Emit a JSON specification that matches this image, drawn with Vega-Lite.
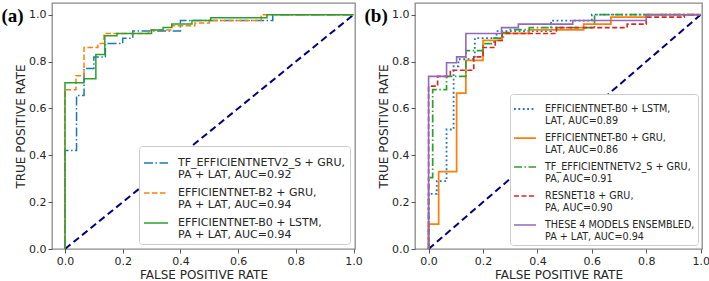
{
  "$schema": "https://vega.github.io/schema/vega-lite/v6.json",
  "padding": {"left": 0, "top": 2, "right": 4, "bottom": 0},
  "background": "white",
  "spacing": 0,
  "resolve": {"scale": {"color": "independent", "strokeDash": "independent", "strokeWidth": "independent"}, "legend": {"color": "independent", "strokeDash": "independent", "strokeWidth": "independent"}},
  "config": {
    "font": "DejaVu Sans",
    "view": {"stroke": "#8a8a8a", "strokeWidth": 1.3},
    "axis": {"grid": false, "domain": false, "tickColor": "#555555", "tickSize": 4, "labelFontSize": 11, "labelColor": "#262626", "titleFontSize": 12, "titleFontWeight": "normal", "titleColor": "#262626", "labelPadding": 2, "labelFont": "DejaVu Sans", "titleFont": "DejaVu Sans"},
    "axisX": {"titlePadding": 3},
    "axisY": {"titlePadding": 1},
    "style": {"guide-label": {"lineHeight": 11.5}}
  },
  "datasets": {
    "diag": [{"fpr": 0, "tpr": 0}, {"fpr": 1, "tpr": 1}],
    "a": [
      {"model": "TF_EFFICIENTNETV2_S + GRU, PA + LAT, AUC=0.92", "i": 0, "fpr": 0, "tpr": 0},
      {"model": "TF_EFFICIENTNETV2_S + GRU, PA + LAT, AUC=0.92", "i": 1, "fpr": 0, "tpr": 0.42},
      {"model": "TF_EFFICIENTNETV2_S + GRU, PA + LAT, AUC=0.92", "i": 2, "fpr": 0.04, "tpr": 0.655},
      {"model": "TF_EFFICIENTNETV2_S + GRU, PA + LAT, AUC=0.92", "i": 3, "fpr": 0.066, "tpr": 0.77},
      {"model": "TF_EFFICIENTNETV2_S + GRU, PA + LAT, AUC=0.92", "i": 4, "fpr": 0.1, "tpr": 0.82},
      {"model": "TF_EFFICIENTNETV2_S + GRU, PA + LAT, AUC=0.92", "i": 5, "fpr": 0.14, "tpr": 0.877},
      {"model": "TF_EFFICIENTNETV2_S + GRU, PA + LAT, AUC=0.92", "i": 6, "fpr": 0.2, "tpr": 0.9},
      {"model": "TF_EFFICIENTNETV2_S + GRU, PA + LAT, AUC=0.92", "i": 7, "fpr": 0.235, "tpr": 0.93},
      {"model": "TF_EFFICIENTNETV2_S + GRU, PA + LAT, AUC=0.92", "i": 8, "fpr": 0.4, "tpr": 0.975},
      {"model": "TF_EFFICIENTNETV2_S + GRU, PA + LAT, AUC=0.92", "i": 9, "fpr": 0.72, "tpr": 1.0},
      {"model": "TF_EFFICIENTNETV2_S + GRU, PA + LAT, AUC=0.92", "i": 10, "fpr": 1, "tpr": 1},
      {"model": "EFFICIENTNET-B2 + GRU, PA + LAT, AUC=0.94", "i": 0, "fpr": 0, "tpr": 0},
      {"model": "EFFICIENTNET-B2 + GRU, PA + LAT, AUC=0.94", "i": 1, "fpr": 0, "tpr": 0.68},
      {"model": "EFFICIENTNET-B2 + GRU, PA + LAT, AUC=0.94", "i": 2, "fpr": 0.038, "tpr": 0.74},
      {"model": "EFFICIENTNET-B2 + GRU, PA + LAT, AUC=0.94", "i": 3, "fpr": 0.066, "tpr": 0.86},
      {"model": "EFFICIENTNET-B2 + GRU, PA + LAT, AUC=0.94", "i": 4, "fpr": 0.114, "tpr": 0.877},
      {"model": "EFFICIENTNET-B2 + GRU, PA + LAT, AUC=0.94", "i": 5, "fpr": 0.135, "tpr": 0.92},
      {"model": "EFFICIENTNET-B2 + GRU, PA + LAT, AUC=0.94", "i": 6, "fpr": 0.29, "tpr": 0.935},
      {"model": "EFFICIENTNET-B2 + GRU, PA + LAT, AUC=0.94", "i": 7, "fpr": 0.37, "tpr": 0.953},
      {"model": "EFFICIENTNET-B2 + GRU, PA + LAT, AUC=0.94", "i": 8, "fpr": 0.45, "tpr": 0.965},
      {"model": "EFFICIENTNET-B2 + GRU, PA + LAT, AUC=0.94", "i": 9, "fpr": 0.5, "tpr": 0.975},
      {"model": "EFFICIENTNET-B2 + GRU, PA + LAT, AUC=0.94", "i": 10, "fpr": 0.68, "tpr": 1.0},
      {"model": "EFFICIENTNET-B2 + GRU, PA + LAT, AUC=0.94", "i": 11, "fpr": 1, "tpr": 1},
      {"model": "EFFICIENTNET-B0 + LSTM, PA + LAT, AUC=0.94", "i": 0, "fpr": 0, "tpr": 0},
      {"model": "EFFICIENTNET-B0 + LSTM, PA + LAT, AUC=0.94", "i": 1, "fpr": 0, "tpr": 0.71},
      {"model": "EFFICIENTNET-B0 + LSTM, PA + LAT, AUC=0.94", "i": 2, "fpr": 0.066, "tpr": 0.727},
      {"model": "EFFICIENTNET-B0 + LSTM, PA + LAT, AUC=0.94", "i": 3, "fpr": 0.107, "tpr": 0.83},
      {"model": "EFFICIENTNET-B0 + LSTM, PA + LAT, AUC=0.94", "i": 4, "fpr": 0.138, "tpr": 0.91},
      {"model": "EFFICIENTNET-B0 + LSTM, PA + LAT, AUC=0.94", "i": 5, "fpr": 0.18, "tpr": 0.92},
      {"model": "EFFICIENTNET-B0 + LSTM, PA + LAT, AUC=0.94", "i": 6, "fpr": 0.3, "tpr": 0.935},
      {"model": "EFFICIENTNET-B0 + LSTM, PA + LAT, AUC=0.94", "i": 7, "fpr": 0.34, "tpr": 0.945},
      {"model": "EFFICIENTNET-B0 + LSTM, PA + LAT, AUC=0.94", "i": 8, "fpr": 0.37, "tpr": 0.96},
      {"model": "EFFICIENTNET-B0 + LSTM, PA + LAT, AUC=0.94", "i": 9, "fpr": 0.44, "tpr": 0.975},
      {"model": "EFFICIENTNET-B0 + LSTM, PA + LAT, AUC=0.94", "i": 10, "fpr": 0.505, "tpr": 0.987},
      {"model": "EFFICIENTNET-B0 + LSTM, PA + LAT, AUC=0.94", "i": 11, "fpr": 0.7, "tpr": 1.0},
      {"model": "EFFICIENTNET-B0 + LSTM, PA + LAT, AUC=0.94", "i": 12, "fpr": 1, "tpr": 1}
    ],
    "b": [
      {"model": "EFFICIENTNET-B0 + LSTM, LAT, AUC=0.89", "i": 0, "fpr": 0, "tpr": 0},
      {"model": "EFFICIENTNET-B0 + LSTM, LAT, AUC=0.89", "i": 1, "fpr": 0, "tpr": 0.235},
      {"model": "EFFICIENTNET-B0 + LSTM, LAT, AUC=0.89", "i": 2, "fpr": 0.03, "tpr": 0.29},
      {"model": "EFFICIENTNET-B0 + LSTM, LAT, AUC=0.89", "i": 3, "fpr": 0.066, "tpr": 0.51},
      {"model": "EFFICIENTNET-B0 + LSTM, LAT, AUC=0.89", "i": 4, "fpr": 0.092, "tpr": 0.78},
      {"model": "EFFICIENTNET-B0 + LSTM, LAT, AUC=0.89", "i": 5, "fpr": 0.11, "tpr": 0.81},
      {"model": "EFFICIENTNET-B0 + LSTM, LAT, AUC=0.89", "i": 6, "fpr": 0.17, "tpr": 0.9},
      {"model": "EFFICIENTNET-B0 + LSTM, LAT, AUC=0.89", "i": 7, "fpr": 0.25, "tpr": 0.93},
      {"model": "EFFICIENTNET-B0 + LSTM, LAT, AUC=0.89", "i": 8, "fpr": 0.45, "tpr": 0.975},
      {"model": "EFFICIENTNET-B0 + LSTM, LAT, AUC=0.89", "i": 9, "fpr": 0.6, "tpr": 1.0},
      {"model": "EFFICIENTNET-B0 + LSTM, LAT, AUC=0.89", "i": 10, "fpr": 1, "tpr": 1},
      {"model": "EFFICIENTNET-B0 + GRU, LAT, AUC=0.86", "i": 0, "fpr": 0, "tpr": 0},
      {"model": "EFFICIENTNET-B0 + GRU, LAT, AUC=0.86", "i": 1, "fpr": 0, "tpr": 0.106},
      {"model": "EFFICIENTNET-B0 + GRU, LAT, AUC=0.86", "i": 2, "fpr": 0.037, "tpr": 0.33},
      {"model": "EFFICIENTNET-B0 + GRU, LAT, AUC=0.86", "i": 3, "fpr": 0.103, "tpr": 0.665},
      {"model": "EFFICIENTNET-B0 + GRU, LAT, AUC=0.86", "i": 4, "fpr": 0.137, "tpr": 0.805},
      {"model": "EFFICIENTNET-B0 + GRU, LAT, AUC=0.86", "i": 5, "fpr": 0.2, "tpr": 0.89},
      {"model": "EFFICIENTNET-B0 + GRU, LAT, AUC=0.86", "i": 6, "fpr": 0.27, "tpr": 0.92},
      {"model": "EFFICIENTNET-B0 + GRU, LAT, AUC=0.86", "i": 7, "fpr": 0.37, "tpr": 0.935},
      {"model": "EFFICIENTNET-B0 + GRU, LAT, AUC=0.86", "i": 8, "fpr": 0.57, "tpr": 0.96},
      {"model": "EFFICIENTNET-B0 + GRU, LAT, AUC=0.86", "i": 9, "fpr": 0.67, "tpr": 0.99},
      {"model": "EFFICIENTNET-B0 + GRU, LAT, AUC=0.86", "i": 10, "fpr": 0.8, "tpr": 1.0},
      {"model": "EFFICIENTNET-B0 + GRU, LAT, AUC=0.86", "i": 11, "fpr": 1, "tpr": 1},
      {"model": "TF_EFFICIENTNETV2_S + GRU, PA, AUC=0.91", "i": 0, "fpr": 0, "tpr": 0},
      {"model": "TF_EFFICIENTNETV2_S + GRU, PA, AUC=0.91", "i": 1, "fpr": 0, "tpr": 0.305},
      {"model": "TF_EFFICIENTNETV2_S + GRU, PA, AUC=0.91", "i": 2, "fpr": 0.015, "tpr": 0.68},
      {"model": "TF_EFFICIENTNETV2_S + GRU, PA, AUC=0.91", "i": 3, "fpr": 0.066, "tpr": 0.737},
      {"model": "TF_EFFICIENTNETV2_S + GRU, PA, AUC=0.91", "i": 4, "fpr": 0.137, "tpr": 0.847},
      {"model": "TF_EFFICIENTNETV2_S + GRU, PA, AUC=0.91", "i": 5, "fpr": 0.2, "tpr": 0.877},
      {"model": "TF_EFFICIENTNETV2_S + GRU, PA, AUC=0.91", "i": 6, "fpr": 0.24, "tpr": 0.9},
      {"model": "TF_EFFICIENTNETV2_S + GRU, PA, AUC=0.91", "i": 7, "fpr": 0.275, "tpr": 0.924},
      {"model": "TF_EFFICIENTNETV2_S + GRU, PA, AUC=0.91", "i": 8, "fpr": 0.3, "tpr": 0.936},
      {"model": "TF_EFFICIENTNETV2_S + GRU, PA, AUC=0.91", "i": 9, "fpr": 0.37, "tpr": 0.945},
      {"model": "TF_EFFICIENTNETV2_S + GRU, PA, AUC=0.91", "i": 10, "fpr": 0.61, "tpr": 1.0},
      {"model": "TF_EFFICIENTNETV2_S + GRU, PA, AUC=0.91", "i": 11, "fpr": 1, "tpr": 1},
      {"model": "RESNET18 + GRU, PA, AUC=0.90", "i": 0, "fpr": 0, "tpr": 0},
      {"model": "RESNET18 + GRU, PA, AUC=0.90", "i": 1, "fpr": 0, "tpr": 0.695},
      {"model": "RESNET18 + GRU, PA, AUC=0.90", "i": 2, "fpr": 0.033, "tpr": 0.737},
      {"model": "RESNET18 + GRU, PA, AUC=0.90", "i": 3, "fpr": 0.08, "tpr": 0.763},
      {"model": "RESNET18 + GRU, PA, AUC=0.90", "i": 4, "fpr": 0.166, "tpr": 0.82},
      {"model": "RESNET18 + GRU, PA, AUC=0.90", "i": 5, "fpr": 0.2, "tpr": 0.86},
      {"model": "RESNET18 + GRU, PA, AUC=0.90", "i": 6, "fpr": 0.245, "tpr": 0.89},
      {"model": "RESNET18 + GRU, PA, AUC=0.90", "i": 7, "fpr": 0.27, "tpr": 0.92},
      {"model": "RESNET18 + GRU, PA, AUC=0.90", "i": 8, "fpr": 0.47, "tpr": 0.945},
      {"model": "RESNET18 + GRU, PA, AUC=0.90", "i": 9, "fpr": 0.73, "tpr": 0.96},
      {"model": "RESNET18 + GRU, PA, AUC=0.90", "i": 10, "fpr": 0.8, "tpr": 0.99},
      {"model": "RESNET18 + GRU, PA, AUC=0.90", "i": 11, "fpr": 0.94, "tpr": 1.0},
      {"model": "RESNET18 + GRU, PA, AUC=0.90", "i": 12, "fpr": 1, "tpr": 1},
      {"model": "THESE 4 MODELS ENSEMBLED, PA + LAT, AUC=0.94", "i": 0, "fpr": 0, "tpr": 0},
      {"model": "THESE 4 MODELS ENSEMBLED, PA + LAT, AUC=0.94", "i": 1, "fpr": 0, "tpr": 0.737},
      {"model": "THESE 4 MODELS ENSEMBLED, PA + LAT, AUC=0.94", "i": 2, "fpr": 0.066, "tpr": 0.795},
      {"model": "THESE 4 MODELS ENSEMBLED, PA + LAT, AUC=0.94", "i": 3, "fpr": 0.103, "tpr": 0.82},
      {"model": "THESE 4 MODELS ENSEMBLED, PA + LAT, AUC=0.94", "i": 4, "fpr": 0.137, "tpr": 0.92},
      {"model": "THESE 4 MODELS ENSEMBLED, PA + LAT, AUC=0.94", "i": 5, "fpr": 0.268, "tpr": 0.945},
      {"model": "THESE 4 MODELS ENSEMBLED, PA + LAT, AUC=0.94", "i": 6, "fpr": 0.33, "tpr": 0.96},
      {"model": "THESE 4 MODELS ENSEMBLED, PA + LAT, AUC=0.94", "i": 7, "fpr": 0.53, "tpr": 0.975},
      {"model": "THESE 4 MODELS ENSEMBLED, PA + LAT, AUC=0.94", "i": 8, "fpr": 0.8, "tpr": 1.0},
      {"model": "THESE 4 MODELS ENSEMBLED, PA + LAT, AUC=0.94", "i": 9, "fpr": 1, "tpr": 1}
    ]
  },
  "hconcat": [
    {
      "width": 303,
      "height": 246,
      "title": {"text": "(a)", "anchor": "start", "frame": "bounds", "baseline": "top", "offset": -23, "dx": -13, "font": "Liberation Serif", "fontSize": 19, "fontWeight": "bold", "color": "black"},
      "layer": [
        {
          "data": {"name": "diag"},
          "mark": {"type": "line", "color": "#000080", "strokeWidth": 2, "strokeDash": [7, 4]},
          "encoding": {
            "x": {"field": "fpr", "type": "quantitative", "scale": {"domain": [-0.045, 1.005], "nice": false, "zero": false}, "axis": {"title": "FALSE POSITIVE RATE", "values": [0, 0.2, 0.4, 0.6, 0.8, 1], "format": ".1f"}},
            "y": {"field": "tpr", "type": "quantitative", "scale": {"domain": [0, 1.05], "nice": false}, "axis": {"title": "TRUE POSITIVE RATE", "values": [0, 0.2, 0.4, 0.6, 0.8, 1], "format": ".1f"}}
          }
        },
        {
          "data": {"name": "a"},
          "mark": {"type": "line", "interpolate": "step-after"},
          "encoding": {
            "x": {"field": "fpr", "type": "quantitative"},
            "y": {"field": "tpr", "type": "quantitative"},
            "order": {"field": "i", "type": "quantitative"},
            "color": {
              "field": "model", "type": "nominal",
              "scale": {"domain": ["TF_EFFICIENTNETV2_S + GRU, PA + LAT, AUC=0.92", "EFFICIENTNET-B2 + GRU, PA + LAT, AUC=0.94", "EFFICIENTNET-B0 + LSTM, PA + LAT, AUC=0.94"], "range": ["#1f77b4", "#ff7f0e", "#2ca02c"]},
              "legend": {"title": null, "orient": "bottom-right", "offset": 5, "symbolType": "stroke", "labelFont": "DejaVu Sans", "labelColor": "#262626", "labelLimit": 0, "strokeColor": "#cccccc", "fillColor": "white", "cornerRadius": 3, "labelFontSize": 11, "symbolSize": 576, "labelOffset": 9, "padding": 4, "rowPadding": 0, "labelExpr": "[slice(datum.label, 0, indexof(datum.label, ',') + 1), '\u00a0' + slice(datum.label, indexof(datum.label, ',') + 2)]"}
            },
            "strokeDash": {
              "field": "model", "type": "nominal",
              "scale": {"domain": ["TF_EFFICIENTNETV2_S + GRU, PA + LAT, AUC=0.92", "EFFICIENTNET-B2 + GRU, PA + LAT, AUC=0.94", "EFFICIENTNET-B0 + LSTM, PA + LAT, AUC=0.94"], "range": [[9, 2.5, 1.5, 2.5], [5.5, 2.5], [1, 0]]}
            },
            "strokeWidth": {
              "field": "model", "type": "nominal",
              "scale": {"domain": ["TF_EFFICIENTNETV2_S + GRU, PA + LAT, AUC=0.92", "EFFICIENTNET-B2 + GRU, PA + LAT, AUC=0.94", "EFFICIENTNET-B0 + LSTM, PA + LAT, AUC=0.94"], "range": [1.5, 1.5, 2.6]}
            }
          }
        }
      ]
    },
    {
      "width": 287,
      "height": 246,
      "title": {"text": "(b)", "anchor": "start", "frame": "bounds", "baseline": "top", "offset": -23, "dx": -13, "font": "Liberation Serif", "fontSize": 19, "fontWeight": "bold", "color": "black"},
      "layer": [
        {
          "data": {"name": "diag"},
          "mark": {"type": "line", "color": "#000080", "strokeWidth": 2, "strokeDash": [7, 4]},
          "encoding": {
            "x": {"field": "fpr", "type": "quantitative", "scale": {"domain": [-0.05, 1.005], "nice": false, "zero": false}, "axis": {"title": "FALSE POSITIVE RATE", "values": [0, 0.2, 0.4, 0.6, 0.8, 1], "format": ".1f"}},
            "y": {"field": "tpr", "type": "quantitative", "scale": {"domain": [0, 1.05], "nice": false}, "axis": {"title": "TRUE POSITIVE RATE", "values": [0, 0.2, 0.4, 0.6, 0.8, 1], "format": ".1f"}}
          }
        },
        {
          "data": {"name": "b"},
          "mark": {"type": "line", "interpolate": "step-after"},
          "encoding": {
            "x": {"field": "fpr", "type": "quantitative"},
            "y": {"field": "tpr", "type": "quantitative"},
            "order": {"field": "i", "type": "quantitative"},
            "color": {
              "field": "model", "type": "nominal",
              "scale": {"domain": ["EFFICIENTNET-B0 + LSTM, LAT, AUC=0.89", "EFFICIENTNET-B0 + GRU, LAT, AUC=0.86", "TF_EFFICIENTNETV2_S + GRU, PA, AUC=0.91", "RESNET18 + GRU, PA, AUC=0.90", "THESE 4 MODELS ENSEMBLED, PA + LAT, AUC=0.94"], "range": ["#1f77b4", "#ff7f0e", "#2ca02c", "#d62728", "#9467bd"]},
              "legend": {"title": null, "orient": "bottom-right", "offset": 4, "symbolType": "stroke", "labelFont": "DejaVu Sans", "labelColor": "#262626", "labelLimit": 0, "strokeColor": "#cccccc", "fillColor": "white", "cornerRadius": 3, "labelFontSize": 9.6, "symbolSize": 484, "labelOffset": 8, "padding": 3, "rowPadding": -2, "labelExpr": "[slice(datum.label, 0, indexof(datum.label, ',') + 1), '\u00a0' + slice(datum.label, indexof(datum.label, ',') + 2)]"}
            },
            "strokeDash": {
              "field": "model", "type": "nominal",
              "scale": {"domain": ["EFFICIENTNET-B0 + LSTM, LAT, AUC=0.89", "EFFICIENTNET-B0 + GRU, LAT, AUC=0.86", "TF_EFFICIENTNETV2_S + GRU, PA, AUC=0.91", "RESNET18 + GRU, PA, AUC=0.90", "THESE 4 MODELS ENSEMBLED, PA + LAT, AUC=0.94"], "range": [[1.8, 2.6], [1, 0], [8, 2.5, 1.5, 2.5], [5, 2.5], [1, 0]]}
            },
            "strokeWidth": {
              "field": "model", "type": "nominal",
              "scale": {"domain": ["EFFICIENTNET-B0 + LSTM, LAT, AUC=0.89", "EFFICIENTNET-B0 + GRU, LAT, AUC=0.86", "TF_EFFICIENTNETV2_S + GRU, PA, AUC=0.91", "RESNET18 + GRU, PA, AUC=0.90", "THESE 4 MODELS ENSEMBLED, PA + LAT, AUC=0.94"], "range": [1.8, 1.6, 1.4, 1.5, 2.6]}
            }
          }
        }
      ]
    }
  ]
}
